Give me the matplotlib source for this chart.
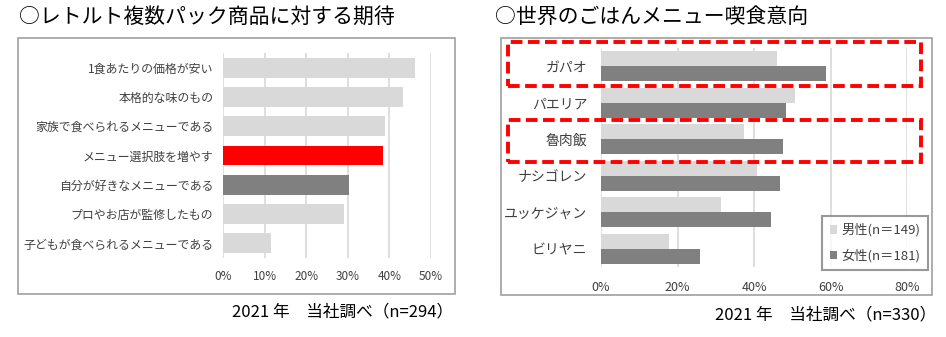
import matplotlib.pyplot as plt
from matplotlib.patches import Rectangle, Patch

plt.rcParams['font.family'] = ['Noto Sans CJK JP', 'DejaVu Sans']

# left chart: expectations for multi-pack retort products
left_labels = ['1食あたりの価格が安い', '本格的な味のもの', '家族で食べられるメニューである',
               'メニュー選択肢を増やす', '自分が好きなメニューである', 'プロやお店が監修したもの',
               '子どもが食べられるメニューである']
left_values = [46.2, 43.3, 38.9, 38.5, 30.3, 29.2, 11.6]
left_colors = ['#d9d9d9', '#d9d9d9', '#d9d9d9', '#ff0000', '#808080', '#d9d9d9', '#d9d9d9']
left_ticks = [0, 10, 20, 30, 40, 50]

# right chart: intention to eat world rice dishes
right_labels = ['ガパオ', 'パエリア', '魯肉飯', 'ナシゴレン', 'ユッケジャン', 'ビリヤニ']
male = [46.0, 50.8, 37.5, 40.8, 31.4, 17.9]
female = [58.8, 48.4, 47.7, 46.7, 44.5, 25.9]
right_ticks = [0, 20, 40, 60, 80]
series_names = ['男性(n＝149)', '女性(n＝181)']

W, H = 946, 337
fig = plt.figure(figsize=(W / 100, H / 100), dpi=100)


def box(x0, y0, x1, y1):
    # pixel coords (top-left origin) -> figure fraction
    return [x0 / W, 1 - y1 / H, (x1 - x0) / W, (y1 - y0) / H]


def frame(x0, y0, x1, y1, **kw):
    l, b, w, h = box(x0, y0, x1, y1)
    fig.patches.append(Rectangle((l, b), w, h, transform=fig.transFigure, fill=False, **kw))


def style_axis(ax, ticks, lim, fs, pad):
    ax.set_xlim(0, lim)
    ax.set_xticks(ticks)
    ax.set_xticklabels([f'{t}%' for t in ticks], fontsize=fs, color='#404040')
    ax.tick_params(axis='x', length=0, pad=pad)
    ax.tick_params(axis='y', length=0)
    for s in ax.spines.values():
        s.set_visible(False)
    ax.grid(axis='x', color='#d9d9d9', linewidth=1.2)
    ax.set_axisbelow(True)


# ---- left panel ----
fig.text(19 / W, 1 - 17 / H, '○レトルト複数パック商品に対する期待', fontsize=15, va='center', ha='left')
frame(18, 38, 455, 294, edgecolor='#a0a0a0', linewidth=1.2)
ax1 = fig.add_axes(box(223, 53, 431, 258))
y1 = list(range(len(left_labels)))
ax1.barh(y1, left_values, height=0.68, color=left_colors)
ax1.set_yticks(y1)
ax1.set_yticklabels(left_labels, fontsize=8.6, color='#404040')
ax1.set_ylim(len(left_labels) - 0.5, -0.5)
style_axis(ax1, left_ticks, 50, 8.5, 9)
ax1.tick_params(axis='y', pad=7)
fig.text(453 / W, 1 - 312 / H, '2021 年　当社調べ（n=294）', fontsize=12, ha='right', va='center')

# ---- right panel ----
fig.text(495 / W, 1 - 17 / H, '○世界のごはんメニュー喫食意向', fontsize=15, va='center', ha='left')
frame(501, 38, 932, 295, edgecolor='#a0a0a0', linewidth=1.2)
ax2 = fig.add_axes(box(601, 48, 907, 267))
y2 = list(range(len(right_labels)))
bh = 0.41
ax2.barh([y - 0.21 for y in y2], male, height=bh, color='#d9d9d9', label=series_names[0])
ax2.barh([y + 0.21 for y in y2], female, height=bh, color='#808080', label=series_names[1])
ax2.set_yticks(y2)
ax2.set_yticklabels(right_labels, fontsize=10, color='#404040')
ax2.set_ylim(len(right_labels) - 0.5, -0.5)
style_axis(ax2, right_ticks, 80, 9, 10)
ax2.tick_params(axis='y', pad=10)

handles = [Patch(facecolor='#d9d9d9'), Patch(facecolor='#808080')]
leg = fig.legend(handles, series_names, loc='upper left', bbox_to_anchor=(815 / W, 1 - 209 / H),
                 fontsize=9.5, frameon=True, fancybox=False, handlelength=0.6, handleheight=0.6,
                 handletextpad=0.3, labelspacing=0.9, borderpad=0.6, labelcolor='#404040')
leg.get_frame().set_edgecolor('#808080')
leg.get_frame().set_linewidth(1.5)

# red dashed highlight boxes
for y0, y1_ in [(42, 86), (120, 162)]:
    frame(508, y0, 921, y1_, edgecolor='#ff0000', linewidth=2.8, linestyle=(0, (3, 1.4)))

fig.text(936 / W, 1 - 315 / H, '2021 年　当社調べ（n=330）', fontsize=12, ha='right', va='center')

fig.savefig('out.png', dpi=100)
